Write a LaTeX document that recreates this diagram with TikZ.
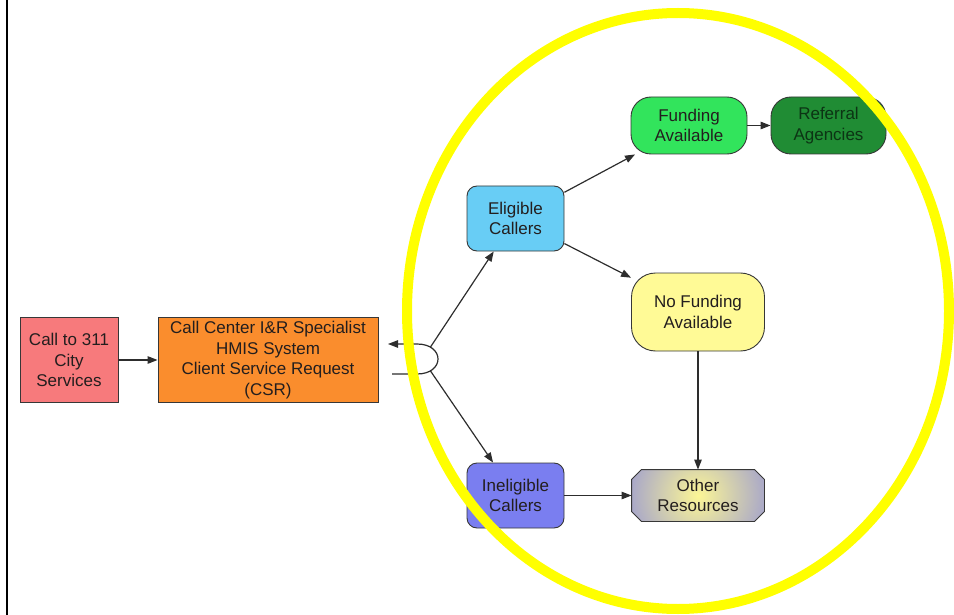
\documentclass[tikz,border=0pt]{standalone}
\usepackage{fontspec}
\setmainfont{Liberation Sans}
\usetikzlibrary{arrows.meta,calc}

\definecolor{callred}{RGB}{247,122,124}
\definecolor{csrorange}{RGB}{250,141,45}
\definecolor{eligblue}{RGB}{104,205,245}
\definecolor{fundgreen}{RGB}{50,228,92}
\definecolor{refergreen}{RGB}{32,140,52}
\definecolor{nofundyellow}{RGB}{255,250,150}
\definecolor{ineligblue}{RGB}{122,126,240}
\definecolor{otherin}{RGB}{252,246,150}
\definecolor{otherout}{RGB}{110,112,236}
\definecolor{edgegray}{RGB}{55,55,55}
\definecolor{linegray}{RGB}{45,45,45}
\definecolor{txt}{RGB}{35,30,30}
\definecolor{refertxt}{RGB}{12,52,20}
\definecolor{hiyellow}{RGB}{255,255,0}

\begin{document}
\begin{tikzpicture}[x=1pt,y=-1pt,
  box/.style={draw=edgegray, line width=0.9pt, text=txt, align=center, inner sep=0pt,
    font=\fontsize{17}{20.6}\selectfont},
  flow/.style={draw=linegray, line width=1.2pt, -{Triangle[length=10pt,width=7.5pt]}}]
\useasboundingbox (0,0) rectangle (954,615);

% page rule on the left
\draw[line width=2.6pt, black] (7,0) -- (7,615);

% boxes
\node[box, fill=callred, minimum width=98pt, minimum height=85pt] (call) at (69,360)
  {Call to 311\\City\\Services};
\node[box, fill=csrorange, minimum width=220pt, minimum height=85pt] (csr) at (268,360)
  {Call Center I\&R Specialist\\HMIS System\\Client Service Request\\(CSR)};
\node[box, fill=eligblue, rounded corners=10pt, minimum width=97pt, minimum height=65pt] (elig)
  at (515.5,218.5) {Eligible\\Callers};
\node[box, fill=fundgreen, rounded corners=20pt, minimum width=116pt, minimum height=57pt] (fund)
  at (689,125.5) {Funding\\Available};
\node[box, fill=refergreen, text=refertxt, rounded corners=20pt, minimum width=115pt, minimum height=57pt] (refer)
  at (828.5,125.5) {Referral\\Agencies};
\node[box, fill=nofundyellow, rounded corners=24pt, minimum width=133pt, minimum height=78pt] (nofund)
  at (698,312) {No Funding\\Available};
\node[box, fill=ineligblue, rounded corners=10pt, minimum width=97pt, minimum height=65pt] (inelig)
  at (515.5,495.5) {Ineligible\\Callers};

% "Other Resources": box with cut corners and a radial fill
\node[box, draw=none, minimum width=132pt, minimum height=51pt] (other) at (698,495.5) {};
\draw[edgegray, line width=0.9pt,
  path picture={\shade[inner color=otherin, outer color=otherout]
    (path picture bounding box.center) circle (116pt);}]
  ($(other.north west)+(10,0)$) -- ($(other.north east)+(-10,0)$) -- ($(other.north east)+(0,10)$)
  -- ($(other.south east)+(0,-10)$) -- ($(other.south east)+(-10,0)$) -- ($(other.south west)+(10,0)$)
  -- ($(other.south west)+(0,-10)$) -- ($(other.north west)+(0,10)$) -- cycle;
\node[box, draw=none] at (other.center) {Other\\Resources};

% connectors
\draw[flow] (call) -- (csr);
\coordinate (csrout) at (392,374);
\coordinate (csrin) at (388,344);
\draw[flow] (csrout) -- (417,374) .. controls (445,374) and (445,344) .. (417,344)
  coordinate[pos=0.2] (jlo) coordinate[pos=0.8] (jhi) -- (csrin);
\draw[flow] (jhi) -- (elig);
\draw[flow] (jlo) -- (inelig);
\draw[flow] (elig) -- (fund);
\draw[flow] (elig) -- (nofund);
\draw[flow] (fund) -- (refer);
\draw[flow] (nofund) -- (other);
\draw[flow] (inelig) -- (other);

% highlight ring
\draw[hiyellow, line width=10pt] (678,311) ellipse [x radius=271, y radius=298];
\end{tikzpicture}
\end{document}
